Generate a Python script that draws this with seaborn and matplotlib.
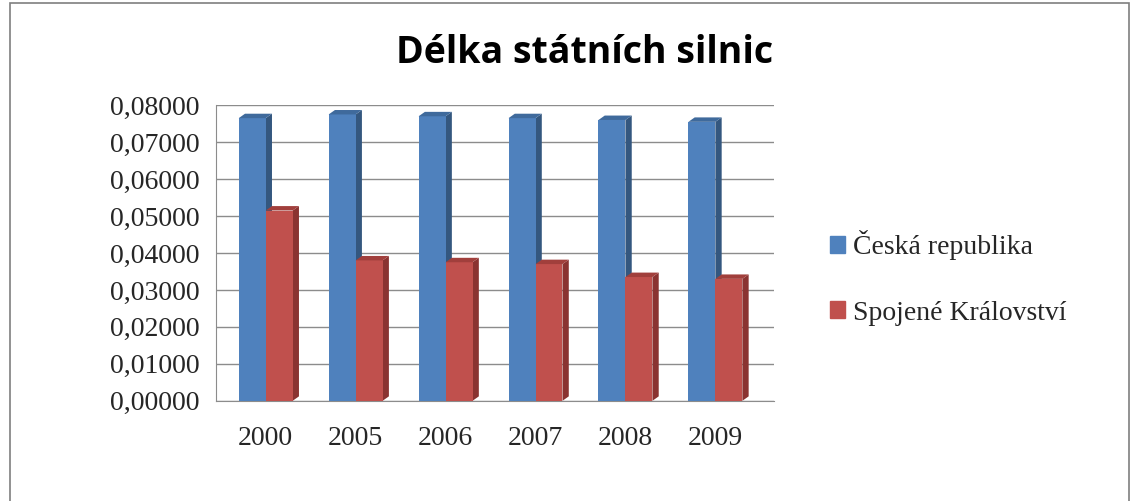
import pandas as pd
import matplotlib.pyplot as plt
import seaborn as sns
from matplotlib.patches import Polygon, Rectangle
from matplotlib.ticker import FuncFormatter, MultipleLocator

# data
years = ['2000', '2005', '2006', '2007', '2008', '2009']
cz = [0.0765, 0.0775, 0.0770, 0.0765, 0.0760, 0.0755]
uk = [0.0515, 0.0380, 0.0375, 0.0370, 0.0335, 0.0330]
series = ['Česká republika', 'Spojené Království']

df = pd.DataFrame({
    'rok': years * 2,
    'hodnota': cz + uk,
    'stat': [series[0]] * len(years) + [series[1]] * len(years),
})

colors = ['#4F81BD', '#C0504D']
side_colors = ['#34577F', '#8A3331']
top_colors = ['#3F6A9C', '#A13F3C']

sns.set_style('white')
plt.rcParams['font.family'] = ['Liberation Serif', 'DejaVu Serif']

fig = plt.figure(figsize=(11.38, 5.01), dpi=100)
ax = fig.add_axes([0.19, 0.2, 0.49, 0.59])

sns.barplot(data=df, x='rok', y='hodnota', hue='stat', hue_order=series,
            palette=colors, width=0.6, ax=ax, legend=False, saturation=1,
            linewidth=0, zorder=3)

# fake the 3D side and top faces from each drawn bar
dx, dy = 0.07, 0.0012
for i, p in enumerate(list(ax.patches)):
    s = 0 if i < len(years) else 1
    x, w, h = p.get_x(), p.get_width(), p.get_height()
    side = Polygon([(x + w, 0), (x + w + dx, dy), (x + w + dx, h + dy), (x + w, h)],
                   closed=True, color=side_colors[s], zorder=2.9, lw=0)
    top = Polygon([(x, h), (x + w, h), (x + w + dx, h + dy), (x + dx, h + dy)],
                  closed=True, color=top_colors[s], zorder=3.1, lw=0)
    ax.add_patch(side)
    ax.add_patch(top)

ax.set_ylim(0, 0.08)
ax.set_xlim(-0.55, len(years) - 0.35)
ax.yaxis.set_major_locator(MultipleLocator(0.01))
ax.yaxis.set_major_formatter(FuncFormatter(lambda v, _: f'{v:.5f}'.replace('.', ',')))
ax.grid(axis='y', color='#8C8C8C', lw=1, zorder=0)
for sp in ['top', 'right']:
    ax.spines[sp].set_visible(False)
for sp in ['left', 'bottom']:
    ax.spines[sp].set_color('#8C8C8C')
ax.tick_params(axis='y', labelsize=20, pad=12, length=0)
ax.tick_params(axis='x', labelsize=20, pad=18, length=0)
ax.set_xlabel('')
ax.set_ylabel('')

fig.text(0.514, 0.895, 'Délka státních silnic', ha='center', va='center',
         fontsize=27, fontweight='bold', color='black',
         family=['Open Sans', 'DejaVu Sans'])

# legend
handles = [Rectangle((0, 0), 1, 1, color=c) for c in colors]
fig.legend(handles, series, loc='center left', bbox_to_anchor=(0.707, 0.445),
           frameon=False, fontsize=20, handlelength=0.55, handleheight=0.55,
           handletextpad=0.3, labelspacing=1.45)

# chart frame
fig.add_artist(Rectangle((0.009, -0.01), 0.983, 1.005, transform=fig.transFigure,
                         fill=False, ec='#7F7F7F', lw=1.2))

plt.savefig('out.png', dpi=100)
plt.close()
